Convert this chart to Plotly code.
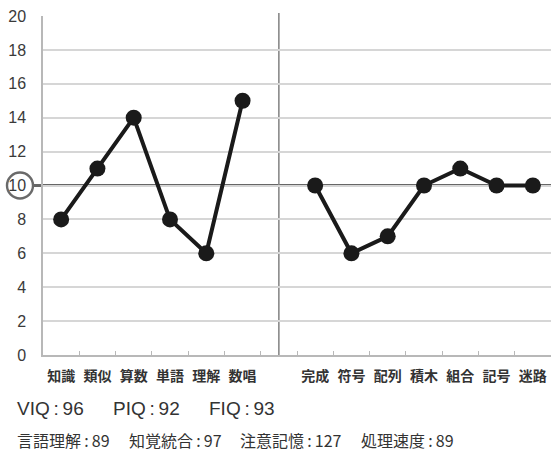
import plotly.graph_objects as go

verbal_labels = ["知識", "類似", "算数", "単語", "理解", "数唱"]
verbal_values = [8, 11, 14, 8, 6, 15]
perf_labels = ["完成", "符号", "配列", "積木", "組合", "記号", "迷路"]
perf_values = [10, 6, 7, 10, 11, 10, 10]
gap_label = " "
categories = verbal_labels + [gap_label] + perf_labels
y_ticks = list(range(0, 21, 2))
iq_texts = ["VIQ\u2009:\u200996", "PIQ\u2009:\u200992", "FIQ\u2009:\u200993"]
index_texts = ["言語理解\u2009:\u200989", "知覚統合\u2009:\u200997",
               "注意記憶\u2009:\u2009127", "処理速度\u2009:\u200989"]

W, H = 552, 456
ml, mr, mt, mb = 43, 1, 16, 101
pw, ph = W - ml - mr, H - mt - mb

def px2x(px):
    return (px - ml) / pw

def px2y(py):
    return (H - mb - py) / ph

fig = go.Figure()
line_style = dict(color="#1a1a1a", width=4)
marker_style = dict(color="#1a1a1a", size=16)
fig.add_trace(go.Scatter(x=verbal_labels, y=verbal_values, mode="lines+markers",
                         line=line_style, marker=marker_style, showlegend=False))
fig.add_trace(go.Scatter(x=perf_labels, y=perf_values, mode="lines+markers",
                         line=line_style, marker=marker_style, showlegend=False))

shapes = [
    dict(type="line", xref="paper", yref="paper", x0=px2x(33), x1=1, y0=0.5, y1=0.5,
         line=dict(color="#666666", width=2.8), layer="below"),
    dict(type="circle", xref="paper", yref="paper",
         x0=px2x(7), x1=px2x(33), y0=0.5 - 13 / ph, y1=0.5 + 13 / ph,
         line=dict(color="#6a6a6a", width=2.4)),
    dict(type="line", xref="x", yref="paper", x0=gap_label, x1=gap_label, y0=0, y1=px2y(13),
         line=dict(color="#888888", width=1.6), layer="below"),
]

annotations = []
for txt, xp in zip(iq_texts, [15, 111, 207]):
    annotations.append(dict(text=txt, xref="paper", yref="paper", x=px2x(xp), y=px2y(408),
                            xanchor="left", yanchor="middle", showarrow=False,
                            font=dict(family="Liberation Sans", size=19, color="#333")))
for txt, xp in zip(index_texts, [15, 127, 238, 359]):
    annotations.append(dict(text=txt, xref="paper", yref="paper", x=px2x(xp), y=px2y(440),
                            xanchor="left", yanchor="middle", showarrow=False,
                            font=dict(family="Noto Sans CJK JP", size=16, color="#333")))

fig.update_layout(
    width=W, height=H, margin=dict(l=ml, r=mr, t=mt, b=mb, autoexpand=False),
    paper_bgcolor="white", plot_bgcolor="white",
    shapes=shapes, annotations=annotations,
    xaxis=dict(type="category", categoryorder="array", categoryarray=categories,
               range=[-0.5, len(categories) - 0.5], showgrid=False, automargin=False,
               showline=True, linecolor="#b8b8b8", linewidth=1.5,
               ticks="inside", tickson="boundaries", ticklen=4, tickcolor="#b8b8b8",
               tickangle=0,
               tickfont=dict(family="Noto Sans CJK JP", size=14, color="#333", weight="bold"),
               ticklabelstandoff=7, fixedrange=True),
    yaxis=dict(range=[0, 20], tickvals=y_ticks, showgrid=True, gridcolor="#d6d6d6", gridwidth=1.5,
               zeroline=False, showline=True, linecolor="#b8b8b8", linewidth=1.5, automargin=False,
               tickfont=dict(family="Liberation Sans", size=16, color="#3a3a3a"),
               ticklabelstandoff=12, fixedrange=True),
)

fig.write_html("out.html", config={"displayModeBar": False},
               post_script="document.body.style.margin='0';")
